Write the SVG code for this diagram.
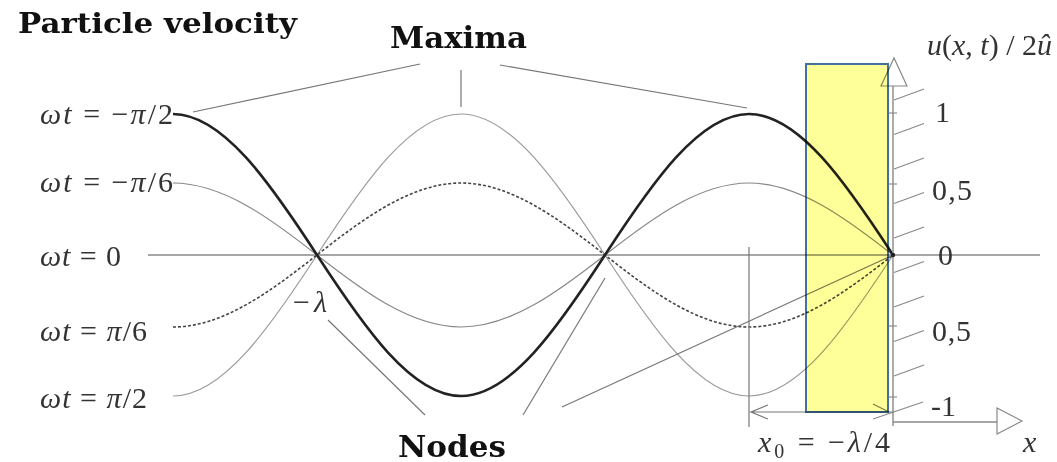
<svg xmlns="http://www.w3.org/2000/svg" width="1057" height="462" viewBox="0 0 1057 462">
<style>
.title{font-family:"DejaVu Serif","Liberation Serif",serif;font-weight:bold;fill:#111}
.m{font-family:"Liberation Serif",serif;font-size:30px;fill:#333}
.i{font-style:italic}
.lead{stroke:#777;stroke-width:1.2;fill:none}
.ax{stroke:#888;stroke-width:1.4;fill:none}
.hatch{stroke:#888;stroke-width:1.1;fill:none}
.tri{fill:#fff;stroke:#888;stroke-width:1.2}
.curve{fill:none}
</style>
<rect width="1057" height="462" fill="#fff"/>
<g id="axis-zero">
<line class="ax" x1="148" y1="255" x2="1040" y2="255"/>
</g>
<g id="curves">
<path class="curve" stroke="#9a9a9a" stroke-width="1.2" d="M173,396 c49.51,0 97.04,-68.77 144,-141 s94.49,-141 144,-141 s97.04,68.77 144,141 s94.49,141 144,141 s97.04,-68.77 144,-141"/>
<path class="curve" stroke="#888" stroke-width="1.2" d="M173,183 c49.51,0 97.04,35.11 144,72 s94.49,72 144,72 s97.04,-35.11 144,-72 s94.49,-72 144,-72 s97.04,35.11 144,72"/>
<path class="curve" stroke="#444" stroke-width="1.6" stroke-dasharray="3 2" d="M173,327 c49.51,0 97.04,-35.11 144,-72 s94.49,-72 144,-72 s97.04,35.11 144,72 s94.49,72 144,72 s97.04,-35.11 144,-72"/>
<path class="curve" stroke="#222" stroke-width="2.6" d="M173,114 c49.51,0 97.04,68.77 144,141 s94.49,141 144,141 s97.04,-68.77 144,-141 s94.49,-141 144,-141 s97.04,68.77 144,141"/>
</g>
<g id="connectors">
<line class="lead" x1="193" y1="112" x2="420" y2="64"/>
<line class="lead" x1="461" y1="70" x2="461" y2="107"/>
<line class="lead" x1="500" y1="65" x2="747" y2="108"/>
<line class="lead" x1="328" y1="320" x2="425" y2="415"/>
<line class="lead" x1="523" y1="415" x2="605" y2="278"/>
<line class="lead" x1="562" y1="407" x2="891" y2="256"/>
<line class="lead" x1="749" y1="247" x2="749" y2="427"/>
<path class="lead" d="M751,412 H893 M768,405 L751,412 L768,419"/>
<line class="lead" x1="873" y1="404" x2="889" y2="412"/>
</g>
<g id="right-axis">
<line class="ax" x1="893" y1="86" x2="893" y2="426"/>
<line class="ax" x1="893" y1="422" x2="997" y2="422"/>
<polygon class="tri" points="881,86 907,86 894,58"/>
<polygon class="tri" points="997,408 997,434 1022,421"/>
<g class="hatch">
<line x1="894" y1="100" x2="924" y2="89"/>
<line x1="894" y1="134.5" x2="924" y2="123.5"/>
<line x1="894" y1="169" x2="924" y2="158"/>
<line x1="894" y1="203.5" x2="924" y2="192.5"/>
<line x1="894" y1="238" x2="924" y2="227"/>
<line x1="894" y1="272.5" x2="924" y2="261.5"/>
<line x1="894" y1="307" x2="924" y2="296"/>
<line x1="894" y1="341.5" x2="924" y2="330.5"/>
<line x1="894" y1="376" x2="924" y2="365"/>
<line x1="873" y1="419" x2="923" y2="402"/>
<line x1="889" y1="113" x2="897" y2="113"/>
<line x1="889" y1="184" x2="897" y2="184"/>
<line x1="889" y1="326" x2="897" y2="326"/>
<line x1="889" y1="397" x2="897" y2="397"/>
</g>
<circle cx="893" cy="255" r="2.2" fill="#222"/>
</g>
<g id="highlight">
<rect x="806" y="64" width="82" height="348" fill="#ffff99" stroke="#41719c" stroke-width="2" style="mix-blend-mode:multiply"/>
</g>
<g id="title">
<text class="title" x="18" y="33" font-size="28" textLength="279" lengthAdjust="spacingAndGlyphs">Particle velocity</text>
</g>
<g id="maxima">
<text class="title" x="390" y="48" font-size="30" textLength="137" lengthAdjust="spacingAndGlyphs">Maxima</text>
</g>
<g id="nodes">
<text class="title" x="398" y="457" font-size="30" textLength="108" lengthAdjust="spacingAndGlyphs">Nodes</text>
</g>
<g id="labels-left">
<text class="m" x="40" y="124" textLength="133"><tspan class="i">ωt</tspan> = −<tspan class="i">π</tspan>/2</text>
<text class="m" x="40" y="192" textLength="133"><tspan class="i">ωt</tspan> = −<tspan class="i">π</tspan>/6</text>
<text class="m" x="40" y="266" textLength="81"><tspan class="i">ωt</tspan> = 0</text>
<text class="m" x="40" y="341" textLength="107"><tspan class="i">ωt</tspan> = <tspan class="i">π</tspan>/6</text>
<text class="m" x="40" y="408" textLength="107"><tspan class="i">ωt</tspan> = <tspan class="i">π</tspan>/2</text>
<text class="m" x="293" y="312" textLength="34">−<tspan class="i">λ</tspan></text>
</g>
<g id="labels-right">
<text class="m" x="927" y="55" font-size="25" textLength="125"><tspan class="i">u</tspan>(<tspan class="i">x</tspan>, <tspan class="i">t</tspan>) / 2<tspan class="i">û</tspan></text>
<text class="m" x="935" y="122">1</text>
<text class="m" x="932" y="200" textLength="40">0,5</text>
<text class="m" x="938" y="265">0</text>
<text class="m" x="932" y="341" textLength="39">0,5</text>
<text class="m" x="931" y="416">-1</text>
<text class="m" x="1023" y="452"><tspan class="i">x</tspan></text>
<text class="m" x="758" y="452" textLength="132"><tspan class="i">x</tspan><tspan font-size="20" dy="6">0</tspan><tspan dy="-6"> = −</tspan><tspan class="i">λ</tspan>/4</text>
</g>
</svg>
